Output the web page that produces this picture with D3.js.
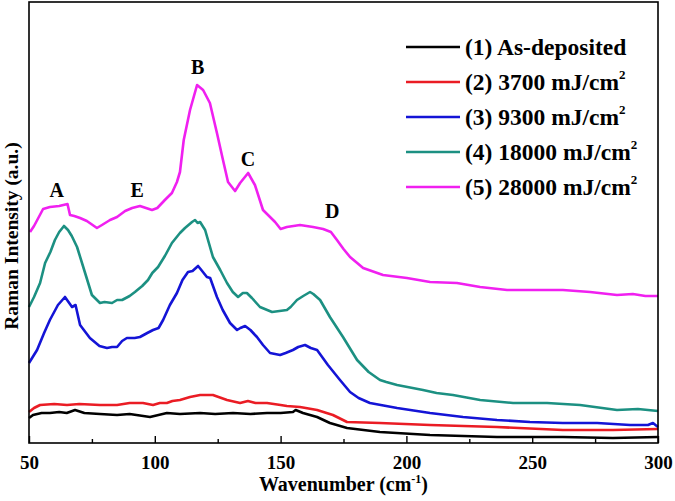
<!DOCTYPE html>
<html><head><meta charset="utf-8">
<script src="https://cdn.jsdelivr.net/npm/d3@7"></script>
<style>body{margin:0;background:#fff}svg{display:block}text{font-family:"Liberation Serif","Times New Roman",serif;font-weight:bold}</style>
</head><body>
<svg id="c" width="675" height="501"></svg>
<script>
// Data (wavenumber in cm^-1, Raman intensity in arbitrary units)
const wn1 = [50,51.6,55,58.3,62,65,68.3,72,78.2,85,90,98.1,104.8,110,118,124,131.1,138,144.6,150,154.9,156,158.9,164.5,169.6,176.4,189.5,209.4,236,262.2,282.1,300];
const int1 = [25,28,30,30,31,30,33,30,29,28,29,26,30,29,30,29,30,29,30,30,31,33,30,26,20,15,11,8,6,6,5,6];
const wn2 = [50,52,54.4,60,65.1,70,78.2,85,90,95.3,99.3,102,104.8,107,110,114,118,123.1,128.7,133.9,137,140,144.6,150,152.5,157.7,160,164.5,170.8,176.4,189.5,209.4,236,262.2,282.1,300];
const int2 = [31,35,38,39,38,39,38,38,40,40,38,40,40,42,43,46,48,48,43,40,42,40,40,38,37,36,35,33,28,21,20,18,16,13,13,14];
const wn3 = [50,53.2,56,58.3,61.5,64.3,67.1,68.5,70.3,74.2,78,81,83,85,87,88.9,92,94.1,97,99.3,101.5,103.3,106,108.8,111,113.2,115,117.2,118.5,120.7,122,124.7,127,129.9,132.7,134,135.9,138,140.6,143,145.8,149.8,152,154.9,157,159.7,162,164.5,168.8,173.6,177.6,181,185.5,196.3,209.4,222.5,236,249.1,262.2,275.8,288.9,296,298,300];
const int3 = [80,93,110,123,138,146,136,138,118,105,97,95,96,96,102,105,105,106,110,113,115,123,138,150,163,171,172,177,173,166,165,146,133,120,113,115,117,113,106,98,90,88,90,93,96,98,95,93,78,63,51,45,40,35,30,26,23,21,20,20,18,18,20,16];
const wn4 = [50,52,54.4,56.4,58.5,60.3,62,63.9,65.5,67,69.1,72.3,75,78.2,80,83,85,87,90,92.1,95,97.3,99,101.3,104,106.8,110,112,114.8,116,117,118,120,123.1,126,128.7,131,133.1,135,136.6,138.6,141.8,146.6,152.5,154,156.5,159,161.7,163,165.7,169.6,174.8,180.4,185,189.5,192,196.3,206.6,212,218.5,229.3,242.4,255.9,269,283.7,292,300];
const int4 = [136,146,160,180,191,203,211,217,213,207,196,170,148,140,141,140,143,143,147,151,157,163,170,176,187,200,210,215,221,223,220,221,213,186,173,160,151,146,150,150,145,136,131,133,136,143,147,151,149,143,126,106,83,71,63,61,58,53,50,48,43,40,40,38,33,34,32];
const wn5 = [50.4,52,55.6,58.3,62,65.3,66.3,68,70.3,73,77,79,82.2,85,88.2,91,94.1,96.5,98.9,101,104,106.8,108.8,110,111.5,114,116.8,119.2,121.9,124.7,127.1,129.1,131.9,133.9,137.1,139.8,143,147.8,150,152.5,157.7,162.9,166.9,170,172.4,175,177.6,182.8,190.7,200.2,209.4,220.1,229.3,240,251.9,262.2,273,283.7,290,295,300];
const int5 = [211,217,234,236,237,239,228,227,225,222,215,218,223,226,232,235,237,235,233,235,243,250,261,271,303,333,358,353,340,310,283,261,252,260,270,258,233,221,214,216,218,216,214,211,203,194,186,175,168,165,161,160,156,153,153,153,151,148,149,147,147];

const seriesNames = ["(1) As-deposited","(2) 3700 mJ/cm","(3) 9300 mJ/cm","(4) 18000 mJ/cm","(5) 28000 mJ/cm"];
const seriesSup = ["","2","2","2","2"];
const seriesColors = ["#000000","#ea1c24","#1414d6","#1c9082","#f020f0"];
const xTicksMajor = [50,100,150,200,250,300];
const xTicksMinor = [75,125,175,225,275];
const peakLabels = ["A","E","B","C","D"];
const peakWn = [61,93,117,137,170.5];
const peakInt = [246,246,369,277,225];

const series = [[wn1,int1],[wn2,int2],[wn3,int3],[wn4,int4],[wn5,int5]];

const svg = d3.select("#c");
const L=29, R=658, T=2, B=443;
const x = d3.scaleLinear().domain([50,300]).range([L,R]);
const y = d3.scaleLinear().domain([0,441]).range([B,T]);

const line = d3.line().x(d=>x(d[0])).y(d=>y(d[1]));
series.forEach((s,i)=>{
  const pts = s[0].map((w,j)=>[w,s[1][j]]);
  svg.append("path").datum(pts).attr("d",line).attr("fill","none")
    .attr("stroke",seriesColors[i]).attr("stroke-width",2.6).attr("stroke-linejoin","round");
});

// frame
svg.append("rect").attr("x",L).attr("y",T).attr("width",R-L).attr("height",B-T)
  .attr("fill","none").attr("stroke","#000").attr("stroke-width",1.6);

// x axis (ticks inward)
const ax = svg.append("g").attr("transform",`translate(0,${B})`)
  .call(d3.axisBottom(x).tickValues(xTicksMajor).tickSizeInner(-7).tickSizeOuter(0).tickPadding(13).tickFormat(d3.format("d")));
ax.select(".domain").remove();
ax.selectAll("line").attr("stroke-width",1.4);
ax.selectAll("text").attr("font-size",19).attr("font-family","Liberation Serif").attr("font-weight","bold").attr("fill","#000");
const axm = svg.append("g").attr("transform",`translate(0,${B})`)
  .call(d3.axisBottom(x).tickValues(xTicksMinor).tickSizeInner(-4).tickSizeOuter(0).tickFormat(""));
axm.select(".domain").remove();
axm.selectAll("line").attr("stroke-width",1.4);

// axis titles
const xt = svg.append("text").attr("x",(L+R)/2).attr("y",491).attr("text-anchor","middle").attr("font-size",20);
xt.append("tspan").text("Wavenumber (cm");
xt.append("tspan").attr("font-size",12).attr("dy",-8).text("-1");
xt.append("tspan").attr("dy",8).text(")");

svg.append("text").attr("transform","translate(18,236) rotate(-90)").attr("text-anchor","middle")
  .attr("font-size",19.5).text("Raman Intensity (a.u.)");

// peak labels
peakLabels.forEach((p,i)=>{
  svg.append("text").attr("x",x(peakWn[i])).attr("y",y(peakInt[i])).attr("text-anchor","middle")
    .attr("font-size",20).text(p);
});

// legend
seriesNames.forEach((n,i)=>{
  const ly = 47 + i*35;
  svg.append("line").attr("x1",406).attr("x2",460).attr("y1",ly).attr("y2",ly)
    .attr("stroke",seriesColors[i]).attr("stroke-width",2.6);
  const t = svg.append("text").attr("x",465).attr("y",ly+8).attr("font-size",23.5);
  t.append("tspan").text(n);
  if(seriesSup[i]) t.append("tspan").attr("font-size",13).attr("dy",-11).text(seriesSup[i]);
});
</script>
</body></html>
